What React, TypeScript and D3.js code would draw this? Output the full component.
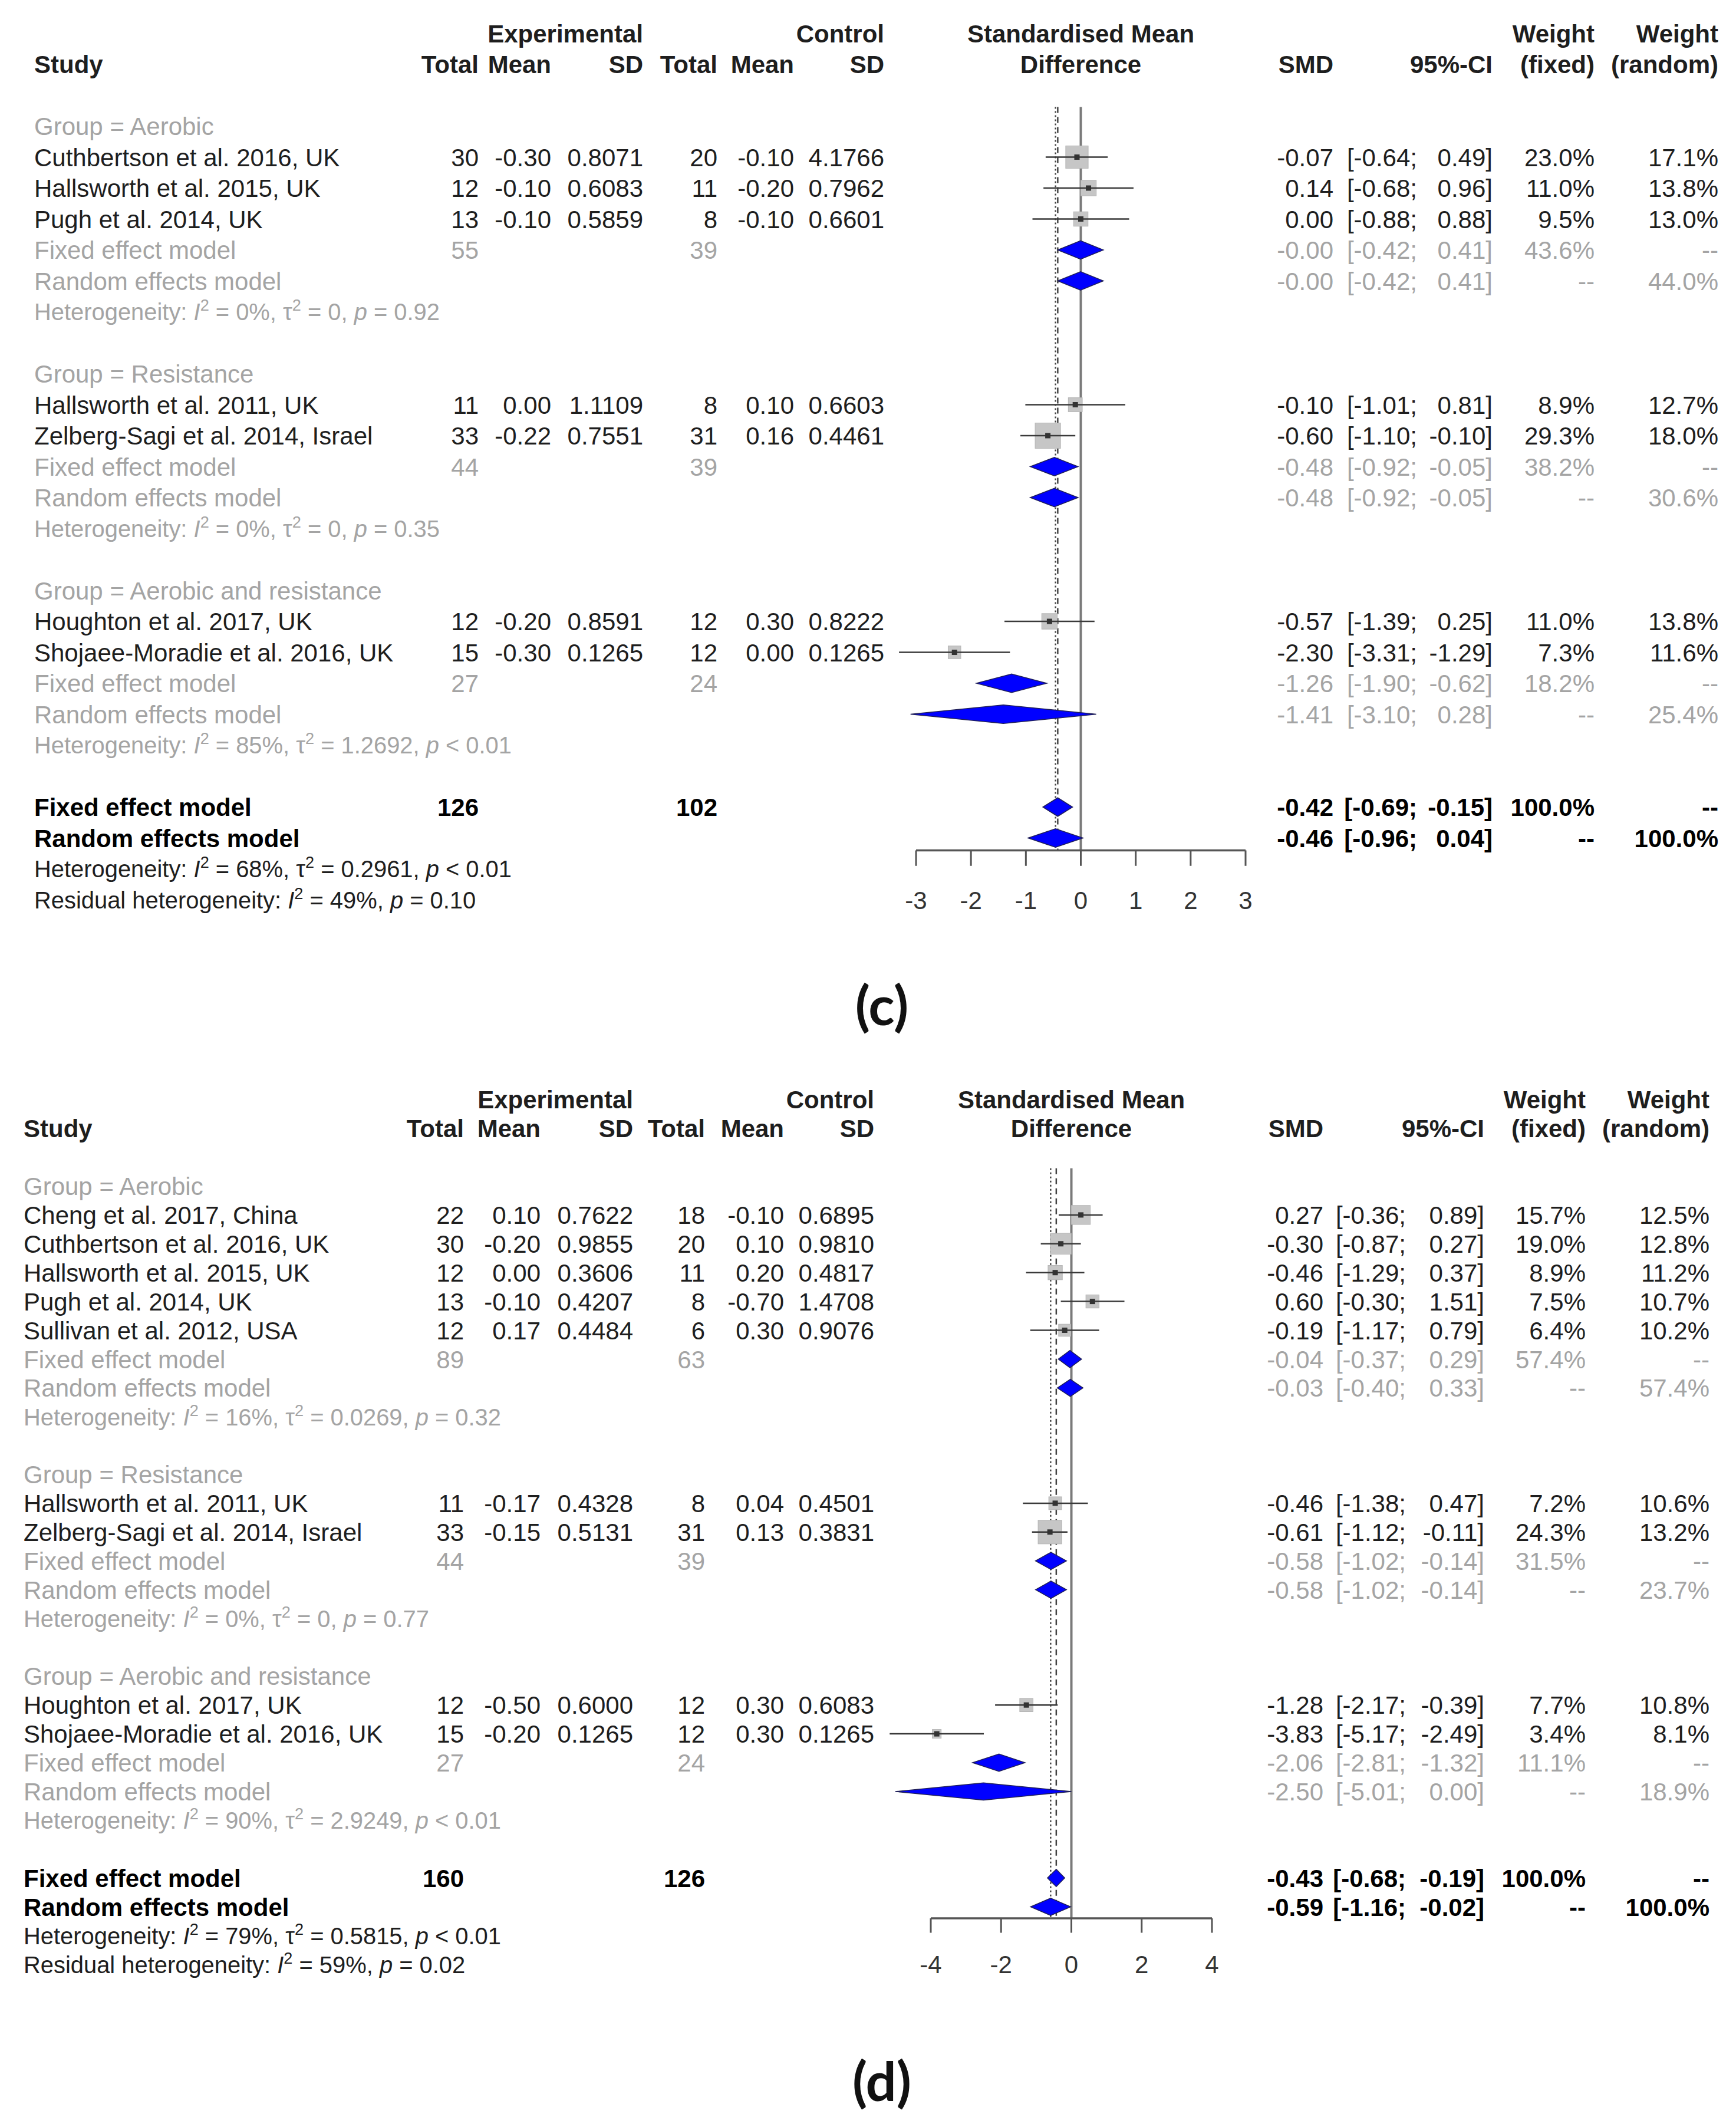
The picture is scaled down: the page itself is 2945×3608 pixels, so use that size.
import * as d3 from "d3";
import React from "react";

type Study = {
  name: string;
  group: number;
  nE: number;
  mE: number;
  sdE: number;
  nC: number;
  mC: number;
  sdC: number;
  smd: number;
  lo: number;
  hi: number;
  wF: number;
  wR: number;
};

type Pooled = [number, number, number, number | null, number | null];

type Summary = {
  nE: number;
  nC: number;
  fixed: Pooled;
  random: Pooled;
  i2: number;
  tau2: number;
  p: string;
};

// ---------- panel (c) ----------
const groupNames = ["Aerobic", "Resistance", "Aerobic and resistance"];

const studiesC: Study[] = [
  { name: "Cuthbertson et al. 2016, UK", group: 0, nE: 30, mE: -0.3, sdE: 0.8071, nC: 20, mC: -0.1, sdC: 4.1766, smd: -0.07, lo: -0.64, hi: 0.49, wF: 23.0, wR: 17.1 },
  { name: "Hallsworth et al. 2015, UK", group: 0, nE: 12, mE: -0.1, sdE: 0.6083, nC: 11, mC: -0.2, sdC: 0.7962, smd: 0.14, lo: -0.68, hi: 0.96, wF: 11.0, wR: 13.8 },
  { name: "Pugh et al. 2014, UK", group: 0, nE: 13, mE: -0.1, sdE: 0.5859, nC: 8, mC: -0.1, sdC: 0.6601, smd: 0.0, lo: -0.88, hi: 0.88, wF: 9.5, wR: 13.0 },
  { name: "Hallsworth et al. 2011, UK", group: 1, nE: 11, mE: 0.0, sdE: 1.1109, nC: 8, mC: 0.1, sdC: 0.6603, smd: -0.1, lo: -1.01, hi: 0.81, wF: 8.9, wR: 12.7 },
  { name: "Zelberg-Sagi et al. 2014, Israel", group: 1, nE: 33, mE: -0.22, sdE: 0.7551, nC: 31, mC: 0.16, sdC: 0.4461, smd: -0.6, lo: -1.1, hi: -0.1, wF: 29.3, wR: 18.0 },
  { name: "Houghton et al. 2017, UK", group: 2, nE: 12, mE: -0.2, sdE: 0.8591, nC: 12, mC: 0.3, sdC: 0.8222, smd: -0.57, lo: -1.39, hi: 0.25, wF: 11.0, wR: 13.8 },
  { name: "Shojaee-Moradie et al. 2016, UK", group: 2, nE: 15, mE: -0.3, sdE: 0.1265, nC: 12, mC: 0.0, sdC: 0.1265, smd: -2.3, lo: -3.31, hi: -1.29, wF: 7.3, wR: 11.6 },
];

const subgroupsC: Summary[] = [
  { nE: 55, nC: 39, fixed: [-0.004, -0.42, 0.41, 43.6, null], random: [-0.004, -0.42, 0.41, null, 44.0], i2: 0, tau2: 0, p: "= 0.92" },
  { nE: 44, nC: 39, fixed: [-0.48, -0.92, -0.05, 38.2, null], random: [-0.48, -0.92, -0.05, null, 30.6], i2: 0, tau2: 0, p: "= 0.35" },
  { nE: 27, nC: 24, fixed: [-1.26, -1.9, -0.62, 18.2, null], random: [-1.41, -3.1, 0.28, null, 25.4], i2: 85, tau2: 1.2692, p: "< 0.01" },
];

const overallC: Summary = {
  nE: 126, nC: 102,
  fixed: [-0.42, -0.69, -0.15, 100.0, null],
  random: [-0.46, -0.96, 0.04, null, 100.0],
  i2: 68, tau2: 0.2961, p: "< 0.01",
};
const residualC = { i2: 49, p: "= 0.10" };
const ticksC = [-3, -2, -1, 0, 1, 2, 3];

// ---------- panel (d) ----------
const studiesD: Study[] = [
  { name: "Cheng et al. 2017, China", group: 0, nE: 22, mE: 0.1, sdE: 0.7622, nC: 18, mC: -0.1, sdC: 0.6895, smd: 0.27, lo: -0.36, hi: 0.89, wF: 15.7, wR: 12.5 },
  { name: "Cuthbertson et al. 2016, UK", group: 0, nE: 30, mE: -0.2, sdE: 0.9855, nC: 20, mC: 0.1, sdC: 0.981, smd: -0.3, lo: -0.87, hi: 0.27, wF: 19.0, wR: 12.8 },
  { name: "Hallsworth et al. 2015, UK", group: 0, nE: 12, mE: 0.0, sdE: 0.3606, nC: 11, mC: 0.2, sdC: 0.4817, smd: -0.46, lo: -1.29, hi: 0.37, wF: 8.9, wR: 11.2 },
  { name: "Pugh et al. 2014, UK", group: 0, nE: 13, mE: -0.1, sdE: 0.4207, nC: 8, mC: -0.7, sdC: 1.4708, smd: 0.6, lo: -0.3, hi: 1.51, wF: 7.5, wR: 10.7 },
  { name: "Sullivan et al. 2012, USA", group: 0, nE: 12, mE: 0.17, sdE: 0.4484, nC: 6, mC: 0.3, sdC: 0.9076, smd: -0.19, lo: -1.17, hi: 0.79, wF: 6.4, wR: 10.2 },
  { name: "Hallsworth et al. 2011, UK", group: 1, nE: 11, mE: -0.17, sdE: 0.4328, nC: 8, mC: 0.04, sdC: 0.4501, smd: -0.46, lo: -1.38, hi: 0.47, wF: 7.2, wR: 10.6 },
  { name: "Zelberg-Sagi et al. 2014, Israel", group: 1, nE: 33, mE: -0.15, sdE: 0.5131, nC: 31, mC: 0.13, sdC: 0.3831, smd: -0.61, lo: -1.12, hi: -0.11, wF: 24.3, wR: 13.2 },
  { name: "Houghton et al. 2017, UK", group: 2, nE: 12, mE: -0.5, sdE: 0.6, nC: 12, mC: 0.3, sdC: 0.6083, smd: -1.28, lo: -2.17, hi: -0.39, wF: 7.7, wR: 10.8 },
  { name: "Shojaee-Moradie et al. 2016, UK", group: 2, nE: 15, mE: -0.2, sdE: 0.1265, nC: 12, mC: 0.3, sdC: 0.1265, smd: -3.83, lo: -5.17, hi: -2.49, wF: 3.4, wR: 8.1 },
];

const subgroupsD: Summary[] = [
  { nE: 89, nC: 63, fixed: [-0.04, -0.37, 0.29, 57.4, null], random: [-0.03, -0.4, 0.33, null, 57.4], i2: 16, tau2: 0.0269, p: "= 0.32" },
  { nE: 44, nC: 39, fixed: [-0.58, -1.02, -0.14, 31.5, null], random: [-0.58, -1.02, -0.14, null, 23.7], i2: 0, tau2: 0, p: "= 0.77" },
  { nE: 27, nC: 24, fixed: [-2.06, -2.81, -1.32, 11.1, null], random: [-2.5, -5.01, 0.0, null, 18.9], i2: 90, tau2: 2.9249, p: "< 0.01" },
];

const overallD: Summary = {
  nE: 160, nC: 126,
  fixed: [-0.43, -0.68, -0.19, 100.0, null],
  random: [-0.59, -1.16, -0.02, null, 100.0],
  i2: 79, tau2: 0.5815, p: "< 0.01",
};
const residualD = { i2: 59, p: "= 0.02" };
const ticksD = [-4, -2, 0, 2, 4];

const FONT = "'Liberation Sans', Arial, Helvetica, sans-serif";
const DARK = "#1e1e1e";
const GRAY = "#a4a4a4";

type Layout = {
  row0: number;
  step: number;
  fs: number;
  studyX: number;
  expTotal: number;
  expMean: number;
  expSD: number;
  ctlTotal: number;
  ctlMean: number;
  ctlSD: number;
  smd: number;
  ci: number;
  ciGap: number;
  wF: number;
  wR: number;
  domain: [number, number];
  range: [number, number];
};

const layoutC: Layout = {
  row0: 214, step: 52.5, fs: 42, studyX: 58,
  expTotal: 812, expMean: 935, expSD: 1091, ctlTotal: 1217, ctlMean: 1347, ctlSD: 1500,
  smd: 2262, ci: 2532, ciGap: 128, wF: 2705, wR: 2915,
  domain: [-3, 3], range: [1554, 2113],
};

const layoutD: Layout = {
  row0: 2012, step: 48.9, fs: 42, studyX: 40,
  expTotal: 787, expMean: 917, expSD: 1074, ctlTotal: 1196, ctlMean: 1330, ctlSD: 1483,
  smd: 2245, ci: 2518, ciGap: 133, wF: 2690, wR: 2900,
  domain: [-4, 4], range: [1579, 2056],
};

const f2 = (v: number) => v.toFixed(2);
const f4 = (v: number) => v.toFixed(4);
const fw = (v: number | null) => (v == null ? "--" : `${v.toFixed(1)}%`);
const ftau = (v: number) => (v === 0 ? "0" : v.toFixed(4));

function Txt({
  x, y, fs, anchor = "start", bold = false, color = DARK, children,
}: {
  x: number; y: number; fs: number; anchor?: string; bold?: boolean; color?: string; children: React.ReactNode;
}) {
  return (
    <text
      x={x}
      y={y + fs * 0.36}
      fontSize={fs}
      fontFamily={FONT}
      fontWeight={bold ? "bold" : "normal"}
      textAnchor={anchor}
      fill={color}
      style={{ whiteSpace: "pre" }}
    >
      {children}
    </text>
  );
}

function HetText({
  x, y, fs, color, label, i2, tau2, p,
}: {
  x: number; y: number; fs: number; color: string; label: string; i2: number; tau2?: number; p: string;
}) {
  const sup = fs * 0.68;
  const shift = fs * 0.4;
  return (
    <text x={x} y={y + fs * 0.36} fontSize={fs} fontFamily={FONT} fill={color} style={{ whiteSpace: "pre" }}>
      <tspan>{label + " "}</tspan>
      <tspan fontStyle="italic">I</tspan>
      <tspan dy={-shift} fontSize={sup}>2</tspan>
      <tspan dy={shift}>{` = ${i2}%, `}</tspan>
      {tau2 !== undefined && (
        <>
          <tspan>τ</tspan>
          <tspan dy={-shift} fontSize={sup}>2</tspan>
          <tspan dy={shift}>{` = ${ftau(tau2)}, `}</tspan>
        </>
      )}
      <tspan fontStyle="italic">p</tspan>
      <tspan>{` ${p}`}</tspan>
    </text>
  );
}

function ForestPanel({
  L, studies, subgroups, overall, residual, ticks, label, labelY,
}: {
  L: Layout; studies: Study[]; subgroups: Summary[]; overall: Summary;
  residual: { i2: number; p: string }; ticks: number[]; label: string; labelY: number;
}) {
  const x = d3.scaleLinear().domain(L.domain).range(L.range);
  const y = (i: number) => L.row0 + i * L.step;
  const fs = L.fs;
  const maxW = d3.max(studies, (s) => s.wF) ?? 1;
  const side = d3.scaleSqrt().domain([0, maxW]).range([0, L.step * 0.82]);
  const dh = L.step * 0.3;
  const diamond = d3.line<[number, number]>().x((d) => d[0]).y((d) => d[1]);

  const items: React.ReactNode[] = [];
  const marks: React.ReactNode[] = [];

  const ciText = (key: string, cy: number, lo: number, hi: number, color: string, bold: boolean) => {
    items.push(
      <Txt key={key + "lo"} x={L.ci - L.ciGap} y={cy} fs={fs} anchor="end" color={color} bold={bold}>{`[${f2(lo)};`}</Txt>,
      <Txt key={key + "hi"} x={L.ci} y={cy} fs={fs} anchor="end" color={color} bold={bold}>{`${f2(hi)}]`}</Txt>
    );
  };

  const pooledRow = (key: string, cy: number, name: string, pooled: Pooled, color: string, bold: boolean, nE?: number, nC?: number) => {
    const [est, lo, hi, wf, wr] = pooled;
    items.push(<Txt key={key + "n"} x={L.studyX} y={cy} fs={fs} color={color} bold={bold}>{name}</Txt>);
    if (nE !== undefined) {
      items.push(
        <Txt key={key + "ne"} x={L.expTotal} y={cy} fs={fs} anchor="end" color={color} bold={bold}>{nE}</Txt>,
        <Txt key={key + "nc"} x={L.ctlTotal} y={cy} fs={fs} anchor="end" color={color} bold={bold}>{nC}</Txt>
      );
    }
    items.push(<Txt key={key + "smd"} x={L.smd} y={cy} fs={fs} anchor="end" color={color} bold={bold}>{f2(est)}</Txt>);
    ciText(key, cy, lo, hi, color, bold);
    items.push(
      <Txt key={key + "wf"} x={L.wF} y={cy} fs={fs} anchor="end" color={color} bold={bold}>{fw(wf)}</Txt>,
      <Txt key={key + "wr"} x={L.wR} y={cy} fs={fs} anchor="end" color={color} bold={bold}>{fw(wr)}</Txt>
    );
    const pts: [number, number][] = [
      [x(lo), cy], [x(est), cy - dh], [x(hi), cy], [x(est), cy + dh],
    ];
    marks.push(
      <path key={key + "dia"} d={diamond(pts) + "Z"} fill="#0000ff" stroke="#20205a" strokeWidth={1.5} />
    );
  };

  let row = 0;
  subgroups.forEach((sub, g) => {
    items.push(<Txt key={`g${g}`} x={L.studyX} y={y(row)} fs={fs} color={GRAY}>{`Group = ${groupNames[g]}`}</Txt>);
    row += 1;
    studies.filter((s) => s.group === g).forEach((s, k) => {
      const cy = y(row);
      const key = `s${g}-${k}`;
      items.push(
        <Txt key={key + "n"} x={L.studyX} y={cy} fs={fs}>{s.name}</Txt>,
        <Txt key={key + "ne"} x={L.expTotal} y={cy} fs={fs} anchor="end">{s.nE}</Txt>,
        <Txt key={key + "me"} x={L.expMean} y={cy} fs={fs} anchor="end">{f2(s.mE)}</Txt>,
        <Txt key={key + "se"} x={L.expSD} y={cy} fs={fs} anchor="end">{f4(s.sdE)}</Txt>,
        <Txt key={key + "nc"} x={L.ctlTotal} y={cy} fs={fs} anchor="end">{s.nC}</Txt>,
        <Txt key={key + "mc"} x={L.ctlMean} y={cy} fs={fs} anchor="end">{f2(s.mC)}</Txt>,
        <Txt key={key + "sc"} x={L.ctlSD} y={cy} fs={fs} anchor="end">{f4(s.sdC)}</Txt>,
        <Txt key={key + "smd"} x={L.smd} y={cy} fs={fs} anchor="end">{f2(s.smd)}</Txt>,
        <Txt key={key + "wf"} x={L.wF} y={cy} fs={fs} anchor="end">{fw(s.wF)}</Txt>,
        <Txt key={key + "wr"} x={L.wR} y={cy} fs={fs} anchor="end">{fw(s.wR)}</Txt>
      );
      ciText(key, cy, s.lo, s.hi, DARK, false);
      const sd = side(s.wF);
      marks.push(
        <g key={key + "mk"}>
          <rect x={x(s.smd) - sd / 2} y={cy - sd / 2} width={sd} height={sd} fill="#c6c6c6" stroke="#b4b4b4" strokeWidth={1} />
          <line x1={x(s.lo)} x2={x(s.hi)} y1={cy} y2={cy} stroke="#3a3a3a" strokeWidth={2.5} />
          <rect x={x(s.smd) - 4.5} y={cy - 4.5} width={9} height={9} fill="#333" />
        </g>
      );
      row += 1;
    });
    pooledRow(`f${g}`, y(row), "Fixed effect model", sub.fixed, GRAY, false, sub.nE, sub.nC);
    row += 1;
    pooledRow(`r${g}`, y(row), "Random effects model", sub.random, GRAY, false);
    row += 1;
    items.push(
      <HetText key={`h${g}`} x={L.studyX} y={y(row)} fs={fs * 0.95} color={GRAY} label="Heterogeneity:" i2={sub.i2} tau2={sub.tau2} p={sub.p} />
    );
    row += 2;
  });

  const fixedRow = row;
  pooledRow("of", y(row), "Fixed effect model", overall.fixed, "#000", true, overall.nE, overall.nC);
  row += 1;
  const randomRow = row;
  pooledRow("or", y(row), "Random effects model", overall.random, "#000", true);
  row += 1;
  items.push(
    <HetText key="oh" x={L.studyX} y={y(row)} fs={fs * 0.95} color={DARK} label="Heterogeneity:" i2={overall.i2} tau2={overall.tau2} p={overall.p} />
  );
  row += 1;
  items.push(
    <HetText key="res" x={L.studyX} y={y(row)} fs={fs * 0.95} color={DARK} label="Residual heterogeneity:" i2={residual.i2} p={residual.p} />
  );

  const top = y(0) - L.step * 0.62;
  const axisY = y(randomRow) + L.step * 0.4;
  const tickLen = L.step * 0.5;
  void fixedRow;

  const headers = (
    <g>
      <Txt x={L.expSD} y={y(-3)} fs={fs} anchor="end" bold>Experimental</Txt>
      <Txt x={L.ctlSD} y={y(-3)} fs={fs} anchor="end" bold>Control</Txt>
      <Txt x={x(0)} y={y(-3)} fs={fs} anchor="middle" bold>Standardised Mean</Txt>
      <Txt x={L.wF} y={y(-3)} fs={fs} anchor="end" bold>Weight</Txt>
      <Txt x={L.wR} y={y(-3)} fs={fs} anchor="end" bold>Weight</Txt>
      <Txt x={L.studyX} y={y(-2)} fs={fs} bold>Study</Txt>
      <Txt x={L.expTotal} y={y(-2)} fs={fs} anchor="end" bold>Total</Txt>
      <Txt x={L.expMean} y={y(-2)} fs={fs} anchor="end" bold>Mean</Txt>
      <Txt x={L.expSD} y={y(-2)} fs={fs} anchor="end" bold>SD</Txt>
      <Txt x={L.ctlTotal} y={y(-2)} fs={fs} anchor="end" bold>Total</Txt>
      <Txt x={L.ctlMean} y={y(-2)} fs={fs} anchor="end" bold>Mean</Txt>
      <Txt x={L.ctlSD} y={y(-2)} fs={fs} anchor="end" bold>SD</Txt>
      <Txt x={x(0)} y={y(-2)} fs={fs} anchor="middle" bold>Difference</Txt>
      <Txt x={L.smd} y={y(-2)} fs={fs} anchor="end" bold>SMD</Txt>
      <Txt x={L.ci} y={y(-2)} fs={fs} anchor="end" bold>95%-CI</Txt>
      <Txt x={L.wF} y={y(-2)} fs={fs} anchor="end" bold>(fixed)</Txt>
      <Txt x={L.wR} y={y(-2)} fs={fs} anchor="end" bold>(random)</Txt>
    </g>
  );

  return (
    <g>
      {headers}
      <line x1={x(0)} x2={x(0)} y1={top} y2={axisY} stroke="#7a7a7a" strokeWidth={4} />
      <line x1={x(overall.fixed[0])} x2={x(overall.fixed[0])} y1={top} y2={axisY} stroke="#444" strokeWidth={2.5} strokeDasharray="10 7" />
      <line x1={x(overall.random[0])} x2={x(overall.random[0])} y1={top} y2={axisY} stroke="#444" strokeWidth={2.5} strokeDasharray="3 4" />
      {marks}
      {items}
      <g>
        <line x1={x(L.domain[0])} x2={x(L.domain[1])} y1={axisY} y2={axisY} stroke="#555" strokeWidth={3.5} />
        {ticks.map((t) => (
          <g key={`t${t}`}>
            <line x1={x(t)} x2={x(t)} y1={axisY} y2={axisY + tickLen} stroke="#555" strokeWidth={3} />
            <Txt x={x(t)} y={y(randomRow + 2)} fs={fs} anchor="middle" color="#333">{String(t)}</Txt>
          </g>
        ))}
      </g>
      <text
        x={1496}
        y={labelY + 32}
        fontSize={92}
        fontFamily="Lato, 'Open Sans', sans-serif"
        fontWeight="bold"
        textAnchor="middle"
        fill="#111"
      >
        {label}
      </text>
    </g>
  );
}

export default function App() {
  return (
    <svg
      width={2945}
      height={3608}
      viewBox="0 0 2945 3608"
      style={{ position: "absolute", left: 0, top: 0, background: "#fff" }}
    >
      <rect x={0} y={0} width={2945} height={3608} fill="#fff" />
      <ForestPanel L={layoutC} studies={studiesC} subgroups={subgroupsC} overall={overallC} residual={residualC} ticks={ticksC} label="(c)" labelY={1707} />
      <ForestPanel L={layoutD} studies={studiesD} subgroups={subgroupsD} overall={overallD} residual={residualD} ticks={ticksD} label="(d)" labelY={3532} />
    </svg>
  );
}
